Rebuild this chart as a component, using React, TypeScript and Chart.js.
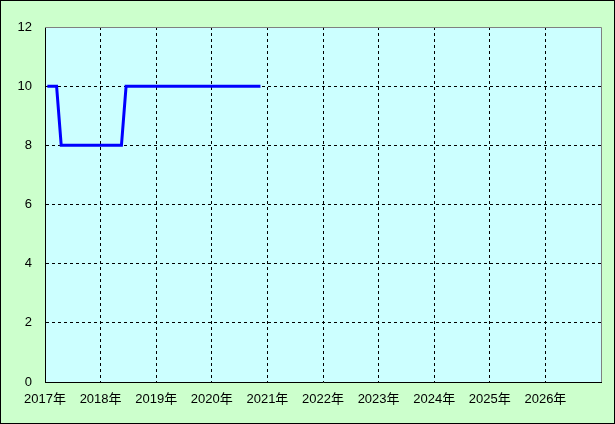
import React, { useEffect, useRef } from "react";
import { Chart, registerables } from "chart.js";

Chart.register(...registerables);

// Monthly observations (YYYY-MM) and values
const months: string[] = [
  "2017-01", "2017-02", "2017-03", "2017-04", "2017-05", "2017-06", "2017-07", "2017-08", "2017-09", "2017-10", "2017-11", "2017-12",
  "2018-01", "2018-02", "2018-03", "2018-04", "2018-05", "2018-06", "2018-07", "2018-08", "2018-09", "2018-10", "2018-11", "2018-12",
  "2019-01", "2019-02", "2019-03", "2019-04", "2019-05", "2019-06", "2019-07", "2019-08", "2019-09", "2019-10", "2019-11", "2019-12",
  "2020-01", "2020-02", "2020-03", "2020-04", "2020-05", "2020-06", "2020-07", "2020-08", "2020-09", "2020-10", "2020-11",
];
const values: number[] = [
  10, 10, 10, 8, 8, 8, 8, 8, 8, 8, 8, 8,
  8, 8, 8, 8, 8, 10, 10, 10, 10, 10, 10, 10,
  10, 10, 10, 10, 10, 10, 10, 10, 10, 10, 10, 10,
  10, 10, 10, 10, 10, 10, 10, 10, 10, 10, 10,
];
const startYear = 2017;
const endYear = 2027;
const yTicks: number[] = [0, 2, 4, 6, 8, 10, 12];
const yearSuffix = "年";

const FONT = '"Liberation Sans", "Noto Sans CJK JP", sans-serif';

export default function App() {
  const ref = useRef<HTMLCanvasElement | null>(null);

  useEffect(() => {
    document.body.style.margin = "0";
    const canvas = ref.current;
    if (!canvas) return;

    const points = months.map((m, i) => {
      const [y, mo] = m.split("-").map(Number);
      return { x: (y - startYear) * 12 + (mo - 1) + 0.5, y: values[i] };
    });

    const bgPlugin = {
      id: "bg",
      beforeDraw(chart: any) {
        const { ctx, width, height, chartArea } = chart;
        ctx.save();
        ctx.fillStyle = "#ccffcc";
        ctx.fillRect(0, 0, width, height);
        ctx.strokeStyle = "#000000";
        ctx.lineWidth = 1;
        ctx.strokeRect(0.5, 0.5, width - 1, height - 1);
        ctx.fillStyle = "#ccffff";
        ctx.fillRect(chartArea.left, chartArea.top, chartArea.right - chartArea.left, chartArea.bottom - chartArea.top);
        ctx.restore();
      },
      beforeDatasetsDraw(chart: any) {
        const { ctx, chartArea } = chart;
        ctx.save();
        ctx.strokeStyle = "#808080";
        ctx.lineWidth = 1;
        ctx.beginPath();
        ctx.moveTo(chartArea.left, Math.round(chartArea.top) + 0.5);
        ctx.lineTo(Math.round(chartArea.right) + 0.5, Math.round(chartArea.top) + 0.5);
        ctx.lineTo(Math.round(chartArea.right) + 0.5, chartArea.bottom);
        ctx.stroke();
        ctx.restore();
      },
    };

    const chart = new Chart(canvas, {
      type: "line",
      data: {
        datasets: [
          {
            data: points,
            borderColor: "#0000ff",
            borderWidth: 3,
            pointRadius: 0,
            tension: 0,
            fill: false,
          },
        ],
      },
      options: {
        animation: false,
        responsive: false,
        maintainAspectRatio: false,
        layout: { padding: { top: 27, right: 14, bottom: 0, left: 1 } },
        plugins: { legend: { display: false }, tooltip: { enabled: false } },
        scales: {
          x: {
            type: "linear",
            min: 0,
            max: (endYear - startYear) * 12,
            afterFit(scale: any) {
              scale.height = 42;
            },
            afterBuildTicks(scale: any) {
              const t = [];
              for (let v = 0; v <= (endYear - startYear) * 12; v += 12) t.push({ value: v });
              scale.ticks = t;
            },
            ticks: {
              autoSkip: false,
              maxRotation: 0,
              padding: 10,
              color: "#000000",
              font: { family: FONT, size: 13 },
              callback: (v: any) => {
                const yr = startYear + Number(v) / 12;
                return yr >= endYear ? "" : `${yr}${yearSuffix}`;
              },
            },
            grid: {
              drawTicks: false,
              lineWidth: 1,
              color: (c: any) => {
                const v = c.tick ? c.tick.value : 0;
                return v === 0 || v === (endYear - startYear) * 12 ? "rgba(0,0,0,0)" : "#000000";
              },
            },
            border: { display: true, color: "#000000", width: 1, dash: [3, 3] },
          },
          y: {
            min: 0,
            max: 12,
            afterFit(scale: any) {
              scale.width = 44;
            },
            afterBuildTicks(scale: any) {
              scale.ticks = yTicks.map((v) => ({ value: v }));
            },
            ticks: {
              padding: 13,
              color: "#000000",
              font: { family: FONT, size: 13 },
            },
            grid: {
              drawTicks: false,
              lineWidth: 1,
              color: (c: any) => {
                const v = c.tick ? c.tick.value : 0;
                return v === 0 || v === 12 ? "rgba(0,0,0,0)" : "#000000";
              },
            },
            border: { display: true, color: "#000000", width: 1, dash: [3, 3] },
          },
        },
      },
      plugins: [bgPlugin],
    });

    return () => chart.destroy();
  }, []);

  return <canvas ref={ref} width={615} height={424} style={{ display: "block" }} />;
}
